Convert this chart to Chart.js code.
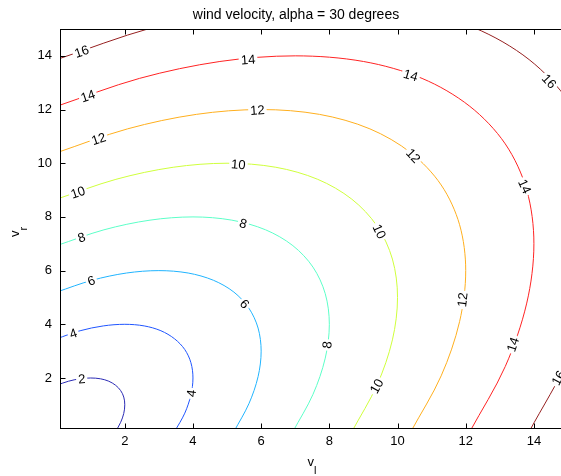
<!DOCTYPE html>
<html>
<head>
<meta charset="utf-8">
<script src="https://cdn.jsdelivr.net/npm/chart.js@4/dist/chart.umd.min.js"></script>
<style>
  html, body { margin: 0; padding: 0; background: #fff; overflow: hidden; width: 561px; height: 476px; }
  canvas { display: block; }
</style>
</head>
<body>
<canvas id="c" width="600" height="476"></canvas>
<script>
// Contour levels of the wind speed and the line colour used for each
const levels = [2, 4, 6, 8, 10, 12, 14, 16];
const levelColors = ['#2a2ab4', '#1f55ff', '#20b4ff', '#5cffc8', '#cfff3c', '#ffaf1e', '#ff2323', '#962020'];

// Contour paths (v_l, v_r) for each level
const contour2X = [1.73, 1.88, 1.97, 2.00, 1.97, 1.88, 1.73, 1.53, 1.29, 1.00, 0.68, 0.35, 0.00];
const contour2Y = [0.00, 0.35, 0.68, 1.00, 1.29, 1.53, 1.73, 1.88, 1.97, 2.00, 1.97, 1.88, 1.73];
const contour4X = [3.46, 3.76, 3.94, 4.00, 3.94, 3.76, 3.46, 3.06, 2.57, 2.00, 1.37, 0.69, 0.00];
const contour4Y = [0.00, 0.69, 1.37, 2.00, 2.57, 3.06, 3.46, 3.76, 3.94, 4.00, 3.94, 3.76, 3.46];
const contour6X = [5.20, 5.64, 5.91, 6.00, 5.91, 5.64, 5.20, 4.60, 3.86, 3.00, 2.05, 1.04, 0.00];
const contour6Y = [0.00, 1.04, 2.05, 3.00, 3.86, 4.60, 5.20, 5.64, 5.91, 6.00, 5.91, 5.64, 5.20];
const contour8X = [6.93, 7.52, 7.88, 8.00, 7.88, 7.52, 6.93, 6.13, 5.14, 4.00, 2.74, 1.39, 0.00];
const contour8Y = [0.00, 1.39, 2.74, 4.00, 5.14, 6.13, 6.93, 7.52, 7.88, 8.00, 7.88, 7.52, 6.93];
const contour10X = [8.66, 9.40, 9.85, 10.00, 9.85, 9.40, 8.66, 7.66, 6.43, 5.00, 3.42, 1.74, 0.00];
const contour10Y = [0.00, 1.74, 3.42, 5.00, 6.43, 7.66, 8.66, 9.40, 9.85, 10.00, 9.85, 9.40, 8.66];
const contour12X = [10.39, 11.28, 11.82, 12.00, 11.82, 11.28, 10.39, 9.19, 7.71, 6.00, 4.10, 2.08, 0.00];
const contour12Y = [0.00, 2.08, 4.10, 6.00, 7.71, 9.19, 10.39, 11.28, 11.82, 12.00, 11.82, 11.28, 10.39];
const contour14X = [12.12, 13.16, 13.79, 14.00, 13.79, 13.16, 12.12, 10.72, 9.00, 7.00, 4.79, 2.43, 0.00];
const contour14Y = [0.00, 2.43, 4.79, 7.00, 9.00, 10.72, 12.12, 13.16, 13.79, 14.00, 13.79, 13.16, 12.12];
const contour16X = [13.86, 15.04, 15.76, 16.00, 15.76, 15.04, 13.86, 12.26, 10.28, 8.00, 5.47, 2.78, 0.00];
const contour16Y = [0.00, 2.78, 5.47, 8.00, 10.28, 12.26, 13.86, 15.04, 15.76, 16.00, 15.76, 15.04, 13.86];

// Inline contour labels: level and approximate position along its line
const labelLevels = [16, 14, 12, 10, 8, 6, 4, 2, 14, 12, 10, 8, 6, 4, 8, 10, 10, 12, 12, 14, 14, 14, 16, 16];
const labelX = [0.74, 0.93, 1.23, 0.64, 0.74, 1.03, 0.49, 0.74, 5.62, 5.89, 5.33, 5.46, 5.47, 4.01, 8.02, 9.44, 9.44, 10.42, 11.98, 10.37, 13.69, 13.45, 14.42, 14.67];
const labelY = [14.14, 12.47, 10.92, 8.87, 7.19, 5.58, 3.65, 1.91, 13.8, 12.0, 9.92, 7.69, 4.71, 1.42, 3.22, 7.44, 1.66, 10.23, 4.9, 13.2, 9.11, 3.22, 13.02, 2.04];

// Axis ticks and labels
const xTickValues = [2, 4, 6, 8, 10, 12, 14];
const yTickValues = [2, 4, 6, 8, 10, 12, 14];
const xRange = [0.1, 15];
const yRange = [0.1, 15];
const chartTitle = 'wind velocity, alpha = 30 degrees';

const FONT = '"Liberation Sans", Arial, Helvetica, sans-serif';

const paths = {
  2: [contour2X, contour2Y], 4: [contour4X, contour4Y], 6: [contour6X, contour6Y],
  8: [contour8X, contour8Y], 10: [contour10X, contour10Y], 12: [contour12X, contour12Y],
  14: [contour14X, contour14Y], 16: [contour16X, contour16Y]
};

const datasets = levels.map((lv, i) => ({
  label: String(lv),
  data: paths[lv][0].map((vx, k) => ({ x: vx, y: paths[lv][1][k] })),
  showLine: true,
  borderColor: levelColors[i],
  borderWidth: 1,
  pointRadius: 0,
  tension: 0.33,
  fill: false
}));

function drawSubscripted(ctx, main, sub, x, y) {
  ctx.font = '13px ' + FONT;
  const w = ctx.measureText(main).width;
  ctx.font = '11px ' + FONT;
  const ws = ctx.measureText(sub).width;
  const start = x - (w + ws) / 2;
  ctx.textAlign = 'left';
  ctx.textBaseline = 'alphabetic';
  ctx.font = '13px ' + FONT;
  ctx.fillText(main, start, y);
  ctx.font = '11px ' + FONT;
  ctx.fillText(sub, start + w, y + 8);
}

const decor = {
  id: 'contourDecor',
  afterDatasetsDraw(chart) {
    const { ctx, chartArea: a, scales: { x, y } } = chart;
    ctx.save();
    ctx.beginPath();
    ctx.rect(a.left, a.top, a.right - a.left, a.bottom - a.top);
    ctx.clip();
    ctx.font = '13px ' + FONT;
    ctx.textAlign = 'center';
    ctx.textBaseline = 'middle';
    labelLevels.forEach((lv, i) => {
      const meta = chart.getDatasetMeta(levels.indexOf(lv));
      const pts = meta.data.map(p => ({ x: p.x, y: p.y }));
      const px = x.getPixelForValue(labelX[i]);
      const py = y.getPixelForValue(labelY[i]);
      let best = null;
      for (let k = 0; k < pts.length - 1; k++) {
        const p = pts[k], q = pts[k + 1];
        const dx = q.x - p.x, dy = q.y - p.y;
        const len2 = dx * dx + dy * dy;
        let t = ((px - p.x) * dx + (py - p.y) * dy) / len2;
        t = Math.max(0, Math.min(1, t));
        const cx = p.x + t * dx, cy = p.y + t * dy;
        const d = (cx - px) ** 2 + (cy - py) ** 2;
        if (!best || d < best.d) best = { d, cx, cy, dx, dy };
      }
      let ang = Math.atan2(best.dy, best.dx);
      if (ang > Math.PI / 2) ang -= Math.PI;
      if (ang < -Math.PI / 2) ang += Math.PI;
      const txt = String(lv);
      const w = ctx.measureText(txt).width;
      ctx.save();
      ctx.translate(best.cx, best.cy);
      ctx.rotate(ang);
      ctx.fillStyle = '#fff';
      ctx.fillRect(-w / 2 - 2, -6, w + 4, 12);
      ctx.fillStyle = '#000';
      ctx.fillText(txt, 0, 1);
      ctx.restore();
    });
    ctx.restore();

    // axes box with inward tick marks
    ctx.save();
    ctx.strokeStyle = '#000';
    ctx.lineWidth = 1;
    const L = Math.round(a.left) + 0.5, R = Math.round(a.right) - 0.5;
    const T = Math.round(a.top) + 0.5, B = Math.round(a.bottom) - 0.5;
    ctx.strokeRect(L, T, R - L, B - T);
    ctx.beginPath();
    xTickValues.forEach(v => {
      const p = Math.round(x.getPixelForValue(v)) + 0.5;
      ctx.moveTo(p, B); ctx.lineTo(p, B - 5);
      ctx.moveTo(p, T); ctx.lineTo(p, T + 5);
    });
    yTickValues.forEach(v => {
      const p = Math.round(y.getPixelForValue(v)) + 0.5;
      ctx.moveTo(L, p); ctx.lineTo(L + 5, p);
      ctx.moveTo(R, p); ctx.lineTo(R - 5, p);
    });
    ctx.stroke();

    // title and axis names
    ctx.fillStyle = '#000';
    ctx.font = '14px ' + FONT;
    ctx.textAlign = 'center';
    ctx.textBaseline = 'alphabetic';
    const cx = (a.left + a.right) / 2;
    ctx.fillText(chartTitle, 296, 19);
    drawSubscripted(ctx, 'v', 'l', cx - 2, 466);
    ctx.save();
    ctx.translate(19, (a.top + a.bottom) / 2 + 3);
    ctx.rotate(-Math.PI / 2);
    drawSubscripted(ctx, 'v', 'r', 0, 0);
    ctx.restore();
    ctx.restore();
  }
};

new Chart(document.getElementById('c'), {
  type: 'scatter',
  data: { datasets },
  options: {
    responsive: false,
    animation: false,
    devicePixelRatio: 1,
    layout: { padding: { left: 0, right: 32, top: 29, bottom: 0 } },
    plugins: { legend: { display: false }, tooltip: { enabled: false }, title: { display: false } },
    scales: {
      x: {
        type: 'linear', min: xRange[0], max: xRange[1],
        grid: { display: false, drawTicks: false },
        border: { display: false },
        ticks: { color: '#000', font: { family: FONT, size: 13 }, padding: 5, autoSkip: false, maxRotation: 0 },
        afterBuildTicks: s => { s.ticks = xTickValues.map(v => ({ value: v })); },
        afterFit: s => { s.height = 47; }
      },
      y: {
        type: 'linear', min: yRange[0], max: yRange[1],
        grid: { display: false, drawTicks: false },
        border: { display: false },
        ticks: { color: '#000', font: { family: FONT, size: 13 }, padding: 8, autoSkip: false },
        afterBuildTicks: s => { s.ticks = yTickValues.map(v => ({ value: v })); },
        afterFit: s => { s.width = 60; }
      }
    }
  },
  plugins: [decor]
});
</script>
</body>
</html>
